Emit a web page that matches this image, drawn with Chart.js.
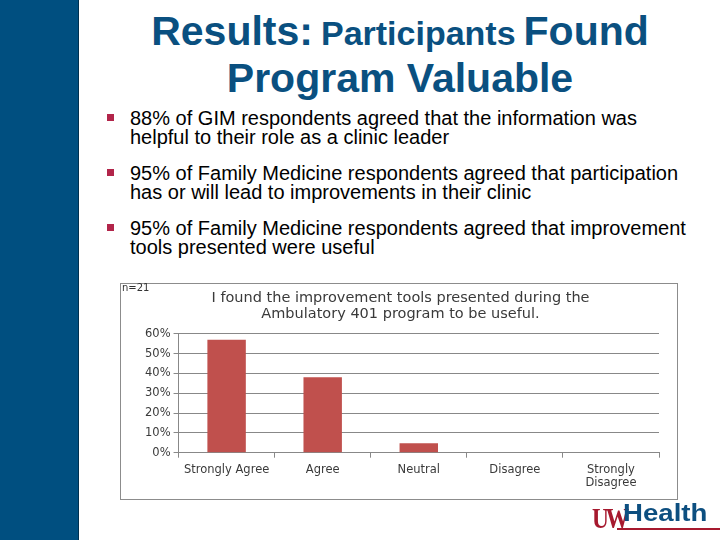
<!DOCTYPE html>
<html>
<head>
<meta charset="utf-8">
<script src="https://cdn.jsdelivr.net/npm/chart.js@4.4.0/dist/chart.umd.min.js"></script>
<style>
  body { margin: 0; width: 720px; height: 540px; background: #fff; position: relative; overflow: hidden; font-family: "Liberation Sans", Arial, sans-serif; }
  #barra { position: absolute; left: 0; top: 0; width: 78px; height: 540px; background: #004f80; border-right: 1px solid #00304f; }
  .titulo { position: absolute; left: 80px; width: 640px; text-align: center; color: #0a5080; font-weight: bold; height: 46px; line-height: 46px; white-space: nowrap; }
  .titulo .g { font-size: 41px; }
  .titulo .p { font-size: 34px; margin: 0 8px; }
  .punto { position: absolute; left: 130px; width: 590px; font-size: 20px; line-height: 19px; color: #000; white-space: nowrap; }
  .punto:before { content: ""; position: absolute; left: -23px; top: 5px; width: 7px; height: 7px; background: #b2254a; }
  #marco { position: absolute; left: 120px; top: 283px; width: 556px; height: 215px; border: 1px solid #8c8c8c; background: #fff; }
  #n { position: absolute; left: 1px; top: -2px; font-family: "DejaVu Sans", sans-serif; font-size: 10px; color: #333; }
  #logo { position: absolute; left: 589px; top: 497px; width: 131px; height: 43px; }
  #logo .uw { position: absolute; left: 3px; top: 6px; font-family: "Liberation Serif", serif; font-weight: bold; font-size: 30px; line-height: 30px; color: #a6192e; letter-spacing: -4px; transform: scaleX(0.78); transform-origin: left top; }
  #logo .h { position: absolute; left: 34px; top: 3px; font-family: "Liberation Sans", sans-serif; font-weight: bold; font-size: 23px; line-height: 26px; color: #0d4f80; transform: scaleX(1.2); transform-origin: left top; }
  #logo .linea { position: absolute; left: 28px; top: 31px; width: 103px; height: 2px; background: #a6192e; }
</style>
</head>
<body>
<div id="barra"></div>
<div class="titulo" style="top:8px"><span class="g">Results:</span><span class="p">Participants</span><span class="g">Found</span></div>
<div class="titulo" style="top:55px"><span class="g">Program Valuable</span></div>
<div class="punto" style="top:109px">88% of GIM respondents agreed that the information was<br>helpful to their role as a clinic leader</div>
<div class="punto" style="top:164px">95% of Family Medicine respondents agreed that participation<br>has or will lead to improvements in their clinic</div>
<div class="punto" style="top:219px">95% of Family Medicine respondents agreed that improvement<br>tools presented were useful</div>
<div id="marco">
  <canvas id="chart1" width="556" height="215"></canvas>
  <div id="n">n=21</div>
</div>
<div id="logo"><span class="uw">UW</span><span class="h">Health</span><div class="linea"></div></div>
<script>
  var categorias = ["Strongly Agree", "Agree", "Neutral", "Disagree", ["Strongly", "Disagree"]];
  var porcentajes = [57.1, 38.1, 4.8, 0, 0];
  var marcasY = [0, 10, 20, 30, 40, 50, 60];
  var tituloGrafico = ["I found the improvement tools presented during the", "Ambulatory 401 program to be useful."];

  var grafico1 = new Chart(document.getElementById("chart1"), {
    type: "bar",
    data: {
      labels: categorias,
      datasets: [{
        label: "Respuestas",
        data: porcentajes,
        backgroundColor: "#c0504d",
        barPercentage: 0.4,
        categoryPercentage: 1
      }]
    },
    options: {
      responsive: false,
      animation: false,
      layout: { padding: { left: 21, right: 18, top: 0, bottom: 4 } },
      plugins: {
        legend: { display: false },
        tooltip: { enabled: false },
        title: {
          display: true,
          text: tituloGrafico,
          color: "#3a3a3a",
          font: { family: "DejaVu Sans", size: 14.5, weight: "normal", lineHeight: 1.1 },
          padding: { top: 6, bottom: 12 }
        }
      },
      scales: {
        x: {
          grid: { offset: true, drawOnChartArea: false, color: "#888", tickLength: 5 },
          border: { color: "#888" },
          ticks: { color: "#3a3a3a", font: { family: "DejaVu Sans", size: 11.5, lineHeight: 1.1 }, maxRotation: 0, padding: 6 }
        },
        y: {
          min: 0,
          max: 60,
          afterBuildTicks: function(eje) { eje.ticks = marcasY.map(function(v) { return { value: v }; }); },
          grid: { color: "#888", tickLength: 5 },
          border: { color: "#888" },
          ticks: {
            color: "#3a3a3a",
            font: { family: "DejaVu Sans", size: 11.5 },
            padding: 3,
            callback: function(v) { return v + "%"; }
          }
        }
      }
    }
  });
</script>
</body>
</html>
